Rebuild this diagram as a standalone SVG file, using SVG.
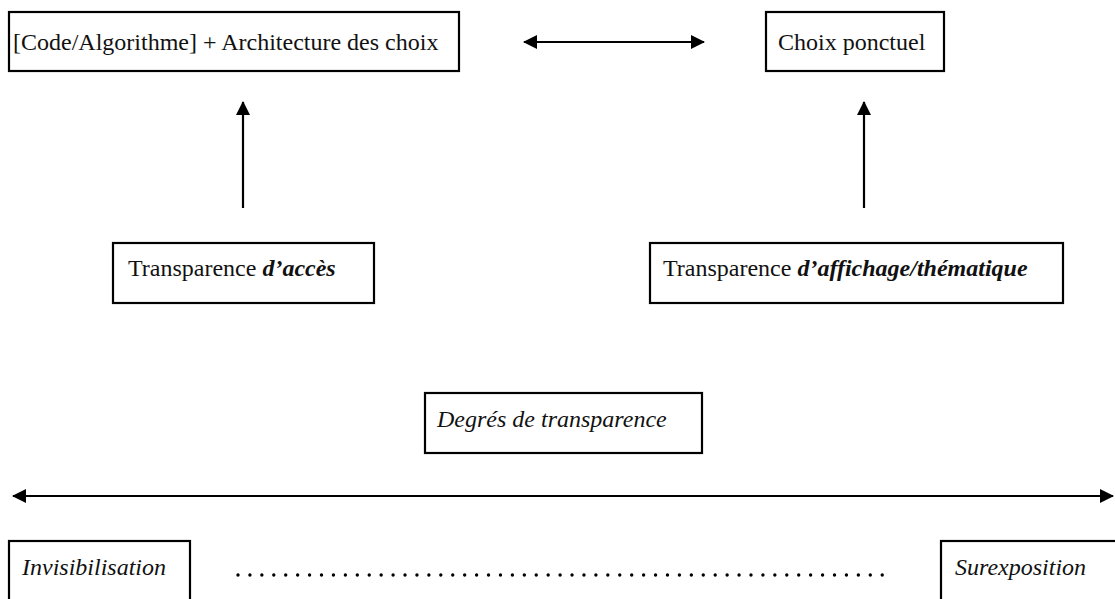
<svg xmlns="http://www.w3.org/2000/svg" width="1115" height="599" viewBox="0 0 1115 599">
<style>
.box{fill:#fff;stroke:#000;stroke-width:2.2}
text{font-family:"Liberation Serif",Tinos,"Times New Roman","DejaVu Serif",serif;font-size:24px;fill:#111}
.i{font-style:italic}
.bi{font-style:italic;font-weight:bold}
.c{stroke:#000;stroke-width:2.2;fill:none}
</style>
<defs>
<marker id="ah" viewBox="0 0 14 14" refX="13" refY="7" markerWidth="14" markerHeight="14" markerUnits="userSpaceOnUse" orient="auto-start-reverse">
<path d="M0,0 L14,7 L0,14 Z" fill="#000"/>
</marker>
</defs>
<rect width="1115" height="599" fill="#fff"/>
<g id="connectors">
<line class="c" x1="524" y1="42" x2="704" y2="42" marker-start="url(#ah)" marker-end="url(#ah)"/>
<line class="c" x1="243" y1="208" x2="243" y2="102" marker-end="url(#ah)"/>
<line class="c" x1="864" y1="208" x2="864" y2="102" marker-end="url(#ah)"/>
<line class="c" x1="13" y1="496" x2="1113" y2="496" marker-start="url(#ah)" marker-end="url(#ah)"/>
<line x1="238" y1="575" x2="894" y2="575" stroke="#000" stroke-width="3.4" stroke-linecap="round" stroke-dasharray="0 11.93"/>
</g>
<g id="code">
<rect class="box" x="9" y="12" width="450" height="59"/>
<text font-family="Liberation Serif, serif" x="13" y="50">[Code/Algorithme] + Architecture des choix</text>
</g>
<g id="choix">
<rect class="box" x="766" y="12" width="178" height="59"/>
<text font-family="Liberation Serif, serif" x="778" y="50">Choix ponctuel</text>
</g>
<g id="acces">
<rect class="box" x="113" y="243" width="261" height="60"/>
<text font-family="Liberation Serif, serif" x="128" y="276">Transparence <tspan class="bi">d’accès</tspan></text>
</g>
<g id="affichage">
<rect class="box" x="650" y="243" width="413" height="60"/>
<text font-family="Liberation Serif, serif" x="663" y="276">Transparence <tspan class="bi">d’affichage/thématique</tspan></text>
</g>
<g id="degres">
<rect class="box" x="425" y="393" width="277" height="60"/>
<text class="i" font-family="Liberation Serif, serif" x="437" y="427">Degrés de transparence</text>
</g>
<g id="invisibilisation">
<rect class="box" x="9" y="541" width="181" height="80"/>
<text class="i" font-family="Liberation Serif, serif" x="22" y="575">Invisibilisation</text>
</g>
<g id="surexposition">
<rect class="box" x="941" y="541" width="190" height="80"/>
<text class="i" font-family="Liberation Serif, serif" x="955" y="575">Surexposition</text>
</g>
</svg>
